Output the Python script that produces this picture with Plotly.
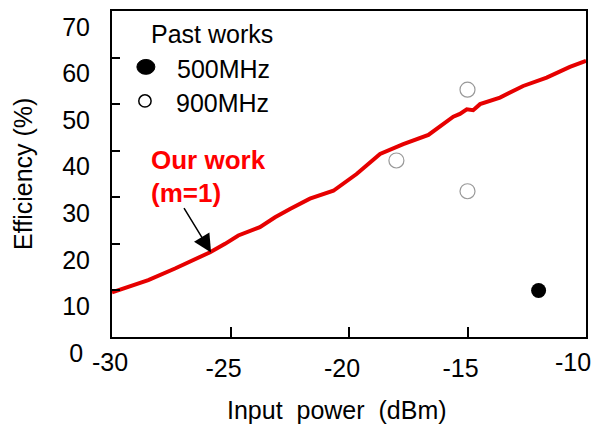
import plotly.graph_objects as go

# --- data ---
our_x = [-30.0, -28.47, -27.34, -25.86, -25.23, -24.67, -23.76, -23.12, -22.49,
         -21.65, -20.66, -19.68, -18.69, -17.71, -16.65, -15.60, -15.32, -15.03,
         -14.76, -14.47, -13.63, -12.65, -11.66, -10.68, -10.0]
our_eff = [9.6, 12.2, 14.7, 18.2, 20.0, 21.8, 23.6, 25.7, 27.5,
           29.7, 31.4, 35.0, 39.3, 41.4, 43.4, 47.3, 47.9, 48.9,
           48.7, 50.0, 51.4, 53.9, 55.7, 58.0, 59.3]

past500_x = [-12]
past500_eff = [10]

past900_x = [-15, -18, -15]
past900_eff = [53.1, 37.9, 31.3]

x_ticks = [-30, -25, -20, -15, -10]
y_ticks = [0, 10, 20, 30, 40, 50, 60, 70]
y_tick_labels = ["0\u00a0", "10", "20", "30", "40", "50", "60", "70"]

FONT = "Liberation Sans, Arial, sans-serif"
FS = 25
X_RANGE = [-30, -10]

fig = go.Figure()
fig.add_trace(go.Scatter(x=our_x, y=our_eff, mode="lines",
                         line=dict(color="#e60000", width=4), showlegend=False))
fig.add_trace(go.Scatter(x=past500_x, y=past500_eff, mode="markers",
                         marker=dict(color="black", size=15, symbol="circle"),
                         showlegend=False))
fig.add_trace(go.Scatter(x=past900_x, y=past900_eff, mode="markers",
                         marker=dict(color="white", size=15, symbol="circle",
                                     line=dict(color="#999999", width=1.2)),
                         showlegend=False))
# empty traces that attach the two end-label axes
fig.add_trace(go.Scatter(x=[], y=[], xaxis="x2", yaxis="y", showlegend=False, hoverinfo="skip"))
fig.add_trace(go.Scatter(x=[], y=[], xaxis="x3", yaxis="y", showlegend=False, hoverinfo="skip"))

# legend-like key drawn as text + symbols
fig.add_annotation(x=-25.78, y=65.1, text="Past works", showarrow=False,
                   xanchor="center", yanchor="middle", font=dict(size=FS, color="black"))
fig.add_annotation(x=-27.34, y=57.6, text="500MHz", showarrow=False,
                   xanchor="left", yanchor="middle", font=dict(size=FS, color="black"))
fig.add_annotation(x=-27.38, y=50.3, text="900MHz", showarrow=False,
                   xanchor="left", yanchor="middle", font=dict(size=FS, color="black"))
fig.add_shape(type="circle", xref="x", yref="y",
              x0=-28.57 - 0.38, x1=-28.57 + 0.38, y0=58.0 - 1.6, y1=58.0 + 1.6,
              fillcolor="black", line=dict(color="black", width=1))
fig.add_shape(type="circle", xref="x", yref="y",
              x0=-28.61 - 0.26, x1=-28.61 + 0.26, y0=50.7 - 1.3, y1=50.7 + 1.3,
              fillcolor="white", line=dict(color="black", width=1.5))

fig.add_annotation(x=-28.44, y=38.1, text="<b>Our work</b>", showarrow=False,
                   xanchor="left", yanchor="middle", font=dict(size=26, color="#ff0000"))
fig.add_annotation(x=-28.44, y=31.0, text="<b>(m=1)</b>", showarrow=False,
                   xanchor="left", yanchor="middle", font=dict(size=26, color="#ff0000"))
fig.add_annotation(x=-25.82, y=18.15, ax=-27.0, ay=28.0, axref="x", ayref="y",
                   text="", showarrow=True, arrowhead=2, arrowsize=2.4,
                   arrowwidth=1.5, arrowcolor="black")

fig.add_annotation(x=0.4757, y=-0.2228, xref="paper", yref="paper", text="Input  power  (dBm)",
                   showarrow=False, xanchor="center", yanchor="middle",
                   font=dict(size=FS, color="black"))
fig.add_annotation(x=-0.1878, y=0.5, xref="paper", yref="paper", text="Efficiency (%)",
                   showarrow=False, textangle=-90, xanchor="center", yanchor="middle",
                   font=dict(size=FS, color="black"))

common_x = dict(range=X_RANGE, showgrid=False, zeroline=False, automargin=False,
                ticklabelstandoff=8, ticklabeloverflow="allow",
                tickfont=dict(size=FS, color="black"))
# main x axis: frame, inner ticks and the middle labels
fig.update_layout(xaxis=dict(**common_x, tickvals=x_ticks[1:-1],
                             ticktext=[str(v) for v in x_ticks[1:-1]],
                             ticks="inside", ticklen=10, tickwidth=2, tickcolor="black",
                             showline=True, linewidth=2, linecolor="black", mirror=True,
                             ticklabelshift=-7))
# end labels, each with its own offset as in the reference
fig.update_layout(xaxis2=dict(**common_x, overlaying="x", anchor="y", side="bottom",
                              tickvals=[x_ticks[0]], ticktext=[str(x_ticks[0])],
                              ticks="", showline=False, ticklabelshift=-2),
                  xaxis3=dict(**common_x, overlaying="x", anchor="y", side="bottom",
                              tickvals=[x_ticks[-1]], ticktext=[str(x_ticks[-1])],
                              ticks="", showline=False, ticklabelshift=-13))
fig.update_yaxes(range=[0, 70], tickvals=y_ticks, ticktext=y_tick_labels,
                 ticks="inside", ticklen=8, tickwidth=2, tickcolor="black",
                 showline=True, linewidth=2, linecolor="black", mirror=True,
                 showgrid=False, zeroline=False, ticklabelshift=16, ticklabelstandoff=15,
                 ticklabeloverflow="allow",
                 automargin=False, tickfont=dict(size=FS, color="black"))

fig.update_layout(width=592, height=425, margin=dict(l=112, r=6, t=11, b=88),
                  paper_bgcolor="white", plot_bgcolor="white",
                  font=dict(family=FONT, size=FS, color="black"), showlegend=False)

# remove the page's default 8px body margin so the figure sits at the window's corner
fig.write_html("out.html", config={"displayModeBar": False},
               post_script="document.body.style.margin='0';")
